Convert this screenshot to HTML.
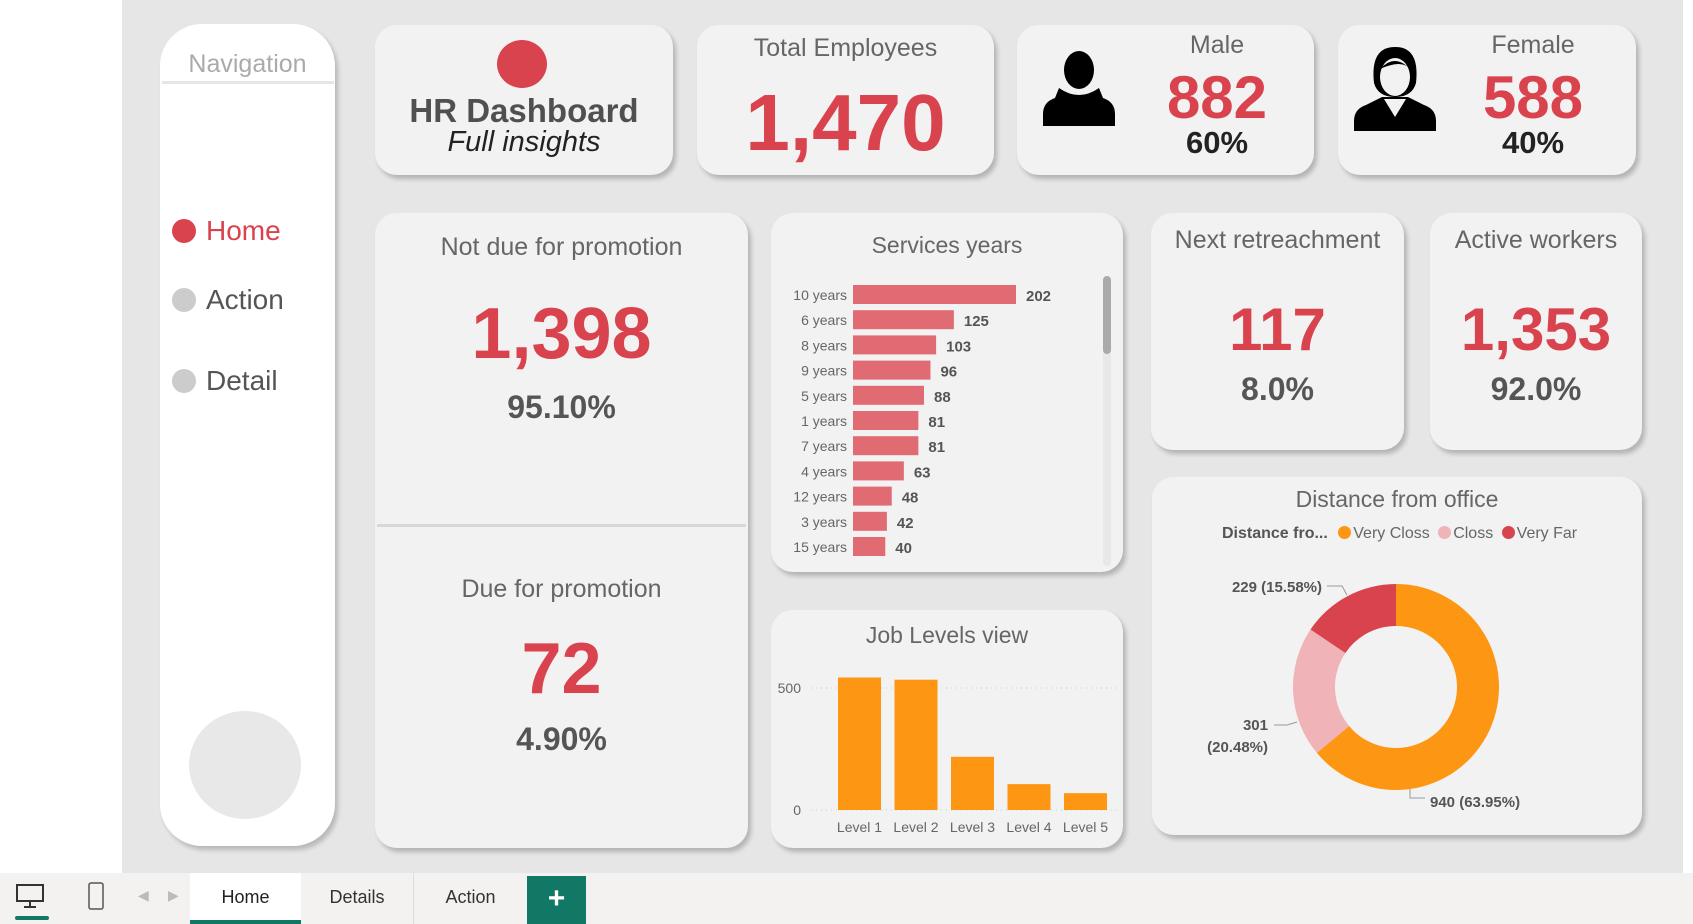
<!DOCTYPE html>
<html><head><meta charset="utf-8"><style>
*{margin:0;padding:0;box-sizing:border-box}
body{width:1693px;height:924px;position:relative;overflow:hidden;background:#fff;font-family:"Liberation Sans","DejaVu Sans",sans-serif}
.abs{position:absolute}
.card{position:absolute;background:#f2f2f2;border-radius:22px;box-shadow:3px 4px 5px rgba(0,0,0,.22)}
.t{position:absolute;left:0;right:0;text-align:center;color:#666}
.red{color:#d9434e;font-weight:bold}
.dk{color:#444;font-weight:bold}
.lg{display:inline-block;width:13px;height:13px;border-radius:50%;vertical-align:-1px;margin-right:2px}
</style></head><body>
<div class="abs" style="left:122px;top:0;width:1561px;height:873px;background:#e6e6e6"></div>
<div class="abs" style="left:160px;top:24px;width:175px;height:822px;background:#fff;border-radius:42px;box-shadow:3px 4px 5px rgba(0,0,0,.2)">
 <div class="abs" style="left:0;top:26px;width:175px;text-align:center;color:#aaa;font-size:25px">Navigation</div>
 <div class="abs" style="left:2px;top:57px;width:172px;height:3px;background:#e6e6e6"></div>
 <div class="abs" style="left:12px;top:191px;font-size:28px;color:#d9434e"><span style="display:inline-block;width:24px;height:24px;border-radius:50%;background:#d9434e;vertical-align:-3px;margin-right:10px"></span>Home</div>
 <div class="abs" style="left:12px;top:260px;font-size:28px;color:#555"><span style="display:inline-block;width:24px;height:24px;border-radius:50%;background:#ccc;vertical-align:-3px;margin-right:10px"></span>Action</div>
 <div class="abs" style="left:12px;top:341px;font-size:28px;color:#555"><span style="display:inline-block;width:24px;height:24px;border-radius:50%;background:#ccc;vertical-align:-3px;margin-right:10px"></span>Detail</div>
 <div class="abs" style="left:29px;top:687px;width:112px;height:108px;border-radius:50%;background:#e8e8e8"></div>
</div>

<div class="card" style="left:375px;top:25px;width:298px;height:150px">
 <div class="abs" style="left:122px;top:15px;width:50px;height:48px;border-radius:50%;background:#d9434e"></div>
 <div class="t dk" style="top:67px;font-size:33px;color:#505050">HR Dashboard</div>
 <div class="t" style="top:101px;font-size:29px;font-style:italic;color:#222">Full insights</div>
</div>
<div class="card" style="left:697px;top:25px;width:297px;height:150px">
 <div class="t" style="top:9px;font-size:25px">Total Employees</div>
 <div class="t red" style="top:52px;font-size:80px">1,470</div>
</div>
<div class="card" style="left:1017px;top:25px;width:297px;height:150px">
 <svg class="abs" style="left:24px;top:25px" width="76" height="76" viewBox="0 0 76 76"><ellipse cx="38" cy="20" rx="15" ry="19"/><path d="M18 38 Q38 52 58 38 L62 48 Q74 52 74 64 L74 76 L2 76 L2 64 Q2 52 14 48Z"/></svg>
 <div class="abs" style="left:100px;width:200px;top:6px;text-align:center;font-size:25px;color:#666">Male</div>
 <div class="abs red" style="left:100px;width:200px;top:38px;text-align:center;font-size:60px">882</div>
 <div class="abs dk" style="left:100px;width:200px;top:100px;text-align:center;font-size:31px;color:#222">60%</div>
</div>
<div class="card" style="left:1338px;top:25px;width:298px;height:150px">
 <svg class="abs" style="left:14px;top:18px" width="86" height="88" viewBox="0 0 86 88"><path d="M22 40 Q18 4 43 4 Q68 4 64 40 Q60 54 43 54 Q26 54 22 40Z"/><ellipse cx="43" cy="34" rx="15" ry="19" fill="#f2f2f2"/><path d="M28 26 Q43 10 58 26 Q50 16 28 26Z"/><path d="M30 54 L56 54 L72 62 Q84 66 84 78 L84 88 L2 88 L2 78 Q2 66 14 62Z"/><path d="M32 56 L43 74 L54 56Z" fill="#f2f2f2"/></svg>
 <div class="abs" style="left:95px;width:200px;top:6px;text-align:center;font-size:25px;color:#666">Female</div>
 <div class="abs red" style="left:95px;width:200px;top:38px;text-align:center;font-size:60px">588</div>
 <div class="abs dk" style="left:95px;width:200px;top:100px;text-align:center;font-size:31px;color:#222">40%</div>
</div>

<div class="card" style="left:375px;top:213px;width:373px;height:635px">
 <div class="t" style="top:20px;font-size:25px">Not due for promotion</div>
 <div class="t red" style="top:80px;font-size:72px">1,398</div>
 <div class="t dk" style="top:176px;font-size:32px;color:#555">95.10%</div>
 <div class="abs" style="left:2px;top:311px;width:369px;height:3px;background:#d8d8d8"></div>
 <div class="t" style="top:362px;font-size:25px">Due for promotion</div>
 <div class="t red" style="top:415px;font-size:72px">72</div>
 <div class="t dk" style="top:508px;font-size:32px;color:#555">4.90%</div>
</div>

<div class="card" style="left:771px;top:213px;width:352px;height:359px">
 <div class="t" style="top:19px;font-size:23px">Services years</div>
 <div class="abs" style="left:332px;top:63px;width:8px;height:290px;background:#e8e8e8;border-radius:4px"></div>
 <div class="abs" style="left:332px;top:63px;width:8px;height:78px;background:#aaa;border-radius:4px"></div>
 <svg class="abs" id="svcsvg" style="left:0;top:0" width="330" height="359"></svg>
</div>

<div class="card" style="left:771px;top:610px;width:352px;height:238px">
 <div class="t" style="top:12px;font-size:23px">Job Levels view</div>
 <svg class="abs" id="jobsvg" style="left:0;top:0" width="352" height="238"></svg>
</div>

<div class="card" style="left:1151px;top:213px;width:253px;height:237px">
 <div class="t" style="top:13px;font-size:25px">Next retreachment</div>
 <div class="t red" style="top:82px;font-size:60px">117</div>
 <div class="t dk" style="top:158px;font-size:32px;color:#555">8.0%</div>
</div>
<div class="card" style="left:1430px;top:213px;width:212px;height:237px">
 <div class="t" style="top:13px;font-size:25px">Active workers</div>
 <div class="t red" style="top:82px;font-size:60px">1,353</div>
 <div class="t dk" style="top:158px;font-size:32px;color:#555">92.0%</div>
</div>

<div class="card" style="left:1152px;top:477px;width:490px;height:358px">
 <div class="t" style="top:9px;font-size:23px">Distance from office</div>
 <div class="abs" style="left:70px;top:48px;font-size:16px;color:#666;white-space:nowrap">
  <b style="color:#555">Distance fro...</b>
  <span style="margin-left:6px"><span class="lg" style="background:#fd9612"></span>Very Closs</span>
  <span style="margin-left:4px"><span class="lg" style="background:#efb3b8"></span>Closs</span>
  <span style="margin-left:4px"><span class="lg" style="background:#d9434e"></span>Very Far</span>
 </div>
 <svg class="abs" id="donut" style="left:0;top:0" width="490" height="358"></svg>
</div>

<div class="abs" style="left:0;top:873px;width:1693px;height:51px;background:#f3f2f1">
 <svg class="abs" style="left:15px;top:10px" width="30" height="26" viewBox="0 0 30 26"><rect x="2" y="2" width="26" height="16" fill="none" stroke="#333" stroke-width="2"/><path d="M15 18v5M9 24h12" stroke="#333" stroke-width="2"/></svg>
 <div class="abs" style="left:15px;top:43px;width:34px;height:4px;background:#117865;border-radius:2px"></div>
 <svg class="abs" style="left:87px;top:8px" width="18" height="30" viewBox="0 0 18 30"><rect x="2" y="2" width="14" height="26" rx="2" fill="none" stroke="#555" stroke-width="1.5"/></svg>
 <div class="abs" style="left:138px;top:14px;color:#bbb;font-size:14px">◀</div>
 <div class="abs" style="left:168px;top:14px;color:#bbb;font-size:14px">▶</div>
 <div class="abs" style="left:190px;top:0;width:111px;height:51px;background:#fff;text-align:center;line-height:48px;font-size:18px;color:#222;border-bottom:4px solid #117865">Home</div>
 <div class="abs" style="left:301px;top:0;width:113px;height:51px;text-align:center;line-height:48px;font-size:18px;color:#333;border-right:1px solid #ddd">Details</div>
 <div class="abs" style="left:414px;top:0;width:113px;height:51px;text-align:center;line-height:48px;font-size:18px;color:#333">Action</div>
 <div class="abs" style="left:527px;top:3px;width:59px;height:48px;background:#117865;color:#fff;text-align:center;line-height:46px;font-size:30px;font-weight:bold">+</div>
</div>

<script>
const NS='http://www.w3.org/2000/svg';
function mk(p,tag,a,txt){const e=document.createElementNS(NS,tag);for(const k in a)e.setAttribute(k,a[k]);if(txt!==undefined)e.textContent=txt;p.appendChild(e);return e;}

// Services years
const svcCats=['10 years','6 years','8 years','9 years','5 years','1 years','7 years','4 years','12 years','3 years','15 years'];
const svcVals=[202,125,103,96,88,81,81,63,48,42,40];
const svc=document.getElementById('svcsvg');
const sx=v=>82+v*(163/202);
const sy=i=>72+i*25.2;
svcCats.forEach((c,i)=>{
 const l=mk(svc,'text',{x:76,y:sy(i)+15,'text-anchor':'end','font-size':14,fill:'#666'},c);
 
 
 const r=mk(svc,'rect',{x:82,y:sy(i),width:sx(svcVals[i])-82,height:19,fill:'#e06b73'});
 
 
 const v=mk(svc,'text',{x:sx(svcVals[i])+10,y:sy(i)+16,'font-size':15,'font-weight':'bold',fill:'#555'},svcVals[i]);
 
 
});

// Job levels
const jobCats=['Level 1','Level 2','Level 3','Level 4','Level 5'];
const jobVals=[543,534,218,106,69];
const jobTicks=[0,500];
const job=document.getElementById('jobsvg');
const jy=v=>200-v*(122/500);
const jx=i=>67+i*56.5;
jobTicks.forEach(t=>{
 const g=mk(job,'line',{x1:40,x2:350,y1:jy(t),y2:jy(t),stroke:'#ccc','stroke-dasharray':'1 4'});
 
 
 const tl=mk(job,'text',{x:30,y:jy(t)+5,'text-anchor':'end','font-size':14,fill:'#666'},t);
 
 
});
jobCats.forEach((c,i)=>{
 const r=mk(job,'rect',{x:jx(i),y:jy(jobVals[i]),width:43,height:200-jy(jobVals[i]),fill:'#fd9612'});
 
 
 const l=mk(job,'text',{x:jx(i)+21.5,y:222,'text-anchor':'middle','font-size':14,fill:'#666'},c);
 
 
});

// Donut
const dCats=['Very Closs','Closs','Very Far'];
const dVals=[940,301,229];
const dColors=['#fd9612','#efb3b8','#d9434e'];
const dLabels=['940 (63.95%)','301|(20.48%)','229 (15.58%)'];
const don=document.getElementById('donut');
const cx=244,cy=210,R=103,r0=61;
const tot=dVals.reduce((a,b)=>a+b,0);
let a0=0;
const pt=(a,rr)=>[cx+rr*Math.sin(a),cy-rr*Math.cos(a)];
dVals.forEach((v,i)=>{
 const a1=a0+v/tot*2*Math.PI;const lg=(a1-a0)>Math.PI?1:0;
 const p1=pt(a0,R),p2=pt(a1,R),p3=pt(a1,r0),p4=pt(a0,r0);
 const p=mk(don,'path',{d:`M${p1}A${R},${R} 0 ${lg} 1 ${p2}L${p3}A${r0},${r0} 0 ${lg} 0 ${p4}Z`,fill:dColors[i]});
 
 
 a0=a1;
});
const lines=[[[258,312],[258,321],[273,321]],[[145,245],[135,248],[122,248]],[[195,118],[190,109],[175,109]]];
lines.forEach(l=>{const e=mk(don,'polyline',{points:l.join(' '),fill:'none',stroke:'#999'});
 
 });
const lp=[[278,330,'start'],[116,253,'end'],[170,115,'end']];
dLabels.forEach((t,i)=>{
 const parts=t.split('|');
 parts.forEach((s,j)=>{
  const e=mk(don,'text',{x:lp[i][0],y:lp[i][1]+j*22,'text-anchor':lp[i][2],'font-size':15,'font-weight':'bold',fill:'#555'},s);
  
  
 });
});
</script>
</body></html>
